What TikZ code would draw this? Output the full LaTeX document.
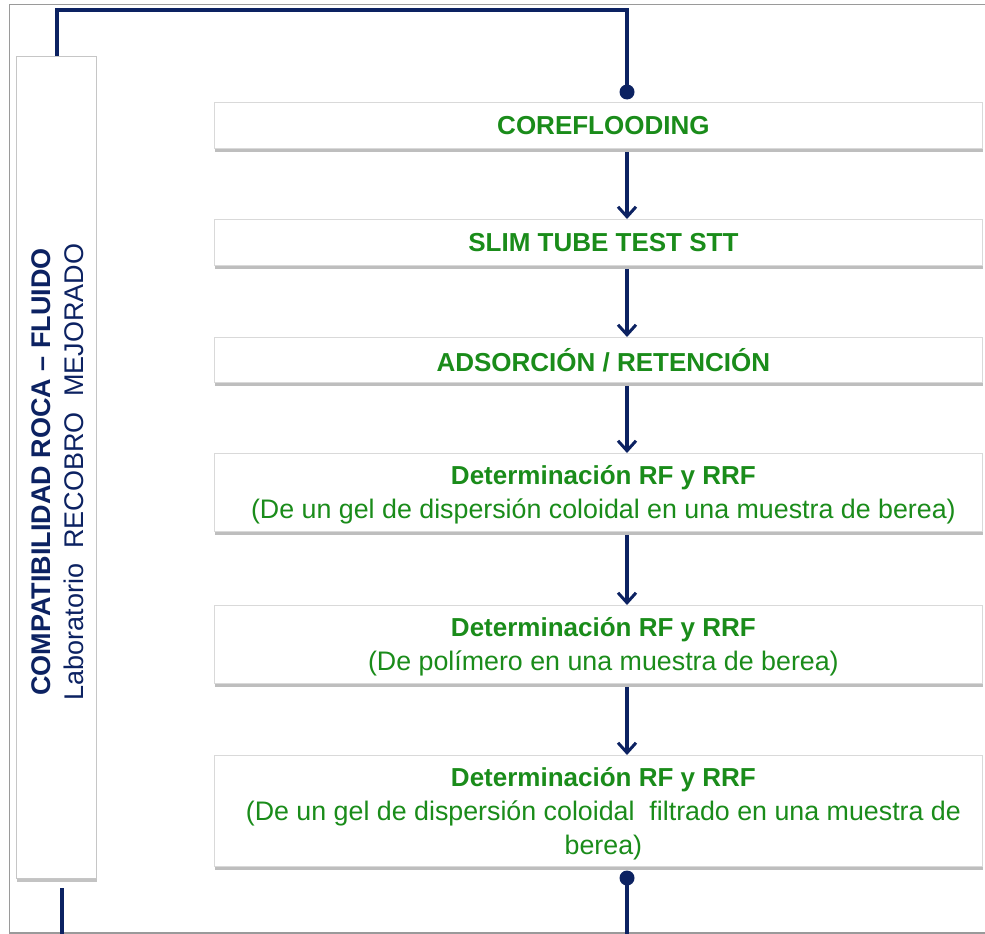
\documentclass[tikz,border=0pt]{standalone}
\usepackage{fontspec}
\setmainfont{Liberation Sans}
\usetikzlibrary{shadows,arrows.meta,calc}
\definecolor{navy}{HTML}{0C2262}
\definecolor{txtgreen}{HTML}{1A8C1A}
\definecolor{frame}{HTML}{9A9A9A}
\newcommand{\regtxt}{\fontsize{26.8}{34}\selectfont}
\tikzset{
  stepbox/.style={draw=gray!30, line width=0.8pt, fill=white, inner sep=0pt, text depth=0pt,
    drop shadow={shadow xshift=0.5pt, shadow yshift=-4pt, opacity=0.6, fill=gray!85},
    align=center, text=txtgreen, font=\fontsize{26}{34}\selectfont},
  sidebox/.style={draw=gray!45, line width=1pt, fill=white, inner sep=0pt,
    drop shadow={shadow xshift=0.5pt, shadow yshift=-3.5pt, opacity=0.55, fill=gray!85}},
  conn/.style={draw=navy, line width=3.6pt},
  arr/.style={draw=navy, line width=3.2pt, -{Straight Barb[length=10pt,width=18pt,line width=3pt]}},
  dotend/.style={circle, fill=navy, inner sep=0pt, minimum size=15pt},
}
\begin{document}
\begin{tikzpicture}[x=1pt,y=-1pt]
\useasboundingbox (0,0) rectangle (985,934);
\clip (0,0) rectangle (985,934);
\fill[white] (0,0) rectangle (985,934);
\draw[frame, line width=1.6pt] (9.5,4.5) rectangle (995,933);

% left box
\node[sidebox, minimum width=80pt, minimum height=822pt, anchor=north west] (side) at (16,56) {};
\node[rotate=90, text=navy, align=center, font=\fontsize{27}{33}\selectfont, anchor=center] (sidetxt) at (58,472)
  {\textbf{COMPATIBILIDAD ROCA – FLUIDO}\\Laboratorio\ \ RECOBRO\ \ MEJORADO};

% column coordinate
\coordinate (axis) at (627,0);

% boxes
\node[stepbox, minimum width=768pt, minimum height=46pt, anchor=north west] (b1) at (214,102) {\hspace*{10pt}\textbf{COREFLOODING}};
\node[stepbox, minimum width=768pt, minimum height=46pt, anchor=north west] (b2) at (214,219) {\hspace*{10pt}\textbf{SLIM TUBE TEST STT}};
\node[stepbox, minimum width=768pt, minimum height=45pt, anchor=north west] (b3) at (214,337) {\hspace*{10pt}\textbf{ADSORCIÓN / RETENCIÓN}};
\node[stepbox, minimum width=768pt, minimum height=78pt, anchor=north west] (b4) at (214,453) {\hspace*{10pt}\textbf{Determinación RF y RRF}\\\hspace*{10pt}{\regtxt(De un gel de dispersión coloidal en una muestra de berea)}};
\node[stepbox, minimum width=768pt, minimum height=78pt, anchor=north west] (b5) at (214,605) {\hspace*{10pt}\textbf{Determinación RF y RRF}\\\hspace*{10pt}{\regtxt(De polímero en una muestra de berea)}};
\node[stepbox, minimum width=768pt, minimum height=111pt, anchor=north west] (b6) at (214,755) {\hspace*{10pt}\textbf{Determinación RF y RRF}\\\hspace*{10pt}{\regtxt(De un gel de dispersión coloidal\ \ filtrado en una muestra de}\\\hspace*{10pt}{\regtxt berea)}};

% arrows
\draw[arr] ($(b1.south -| axis)+(0,3)$) -- (b2.north -| axis);
\draw[arr] ($(b2.south -| axis)+(0,3)$) -- (b3.north -| axis);
\draw[arr] ($(b3.south -| axis)+(0,3)$) -- (b4.north -| axis);
\draw[arr] ($(b4.south -| axis)+(0,3)$) -- (b5.north -| axis);
\draw[arr] ($(b5.south -| axis)+(0,3)$) -- (b6.north -| axis);

% top loop connector
\node[dotend] (dtop) at (627,92) {};
\coordinate (sidetop) at (57,56);
\draw[conn] (sidetop) -- (57,10) -- (627,10) -- (dtop.center);

% bottom connectors
\node[dotend] (dbot) at (627,878) {};
\coordinate (botend) at (627,940);
\draw[conn] (dbot.center) -- (botend);
\coordinate (sidebot) at (62,888);
\coordinate (sidebotend) at (62,940);
\draw[conn] (sidebot) -- (sidebotend);
\end{tikzpicture}
\end{document}
